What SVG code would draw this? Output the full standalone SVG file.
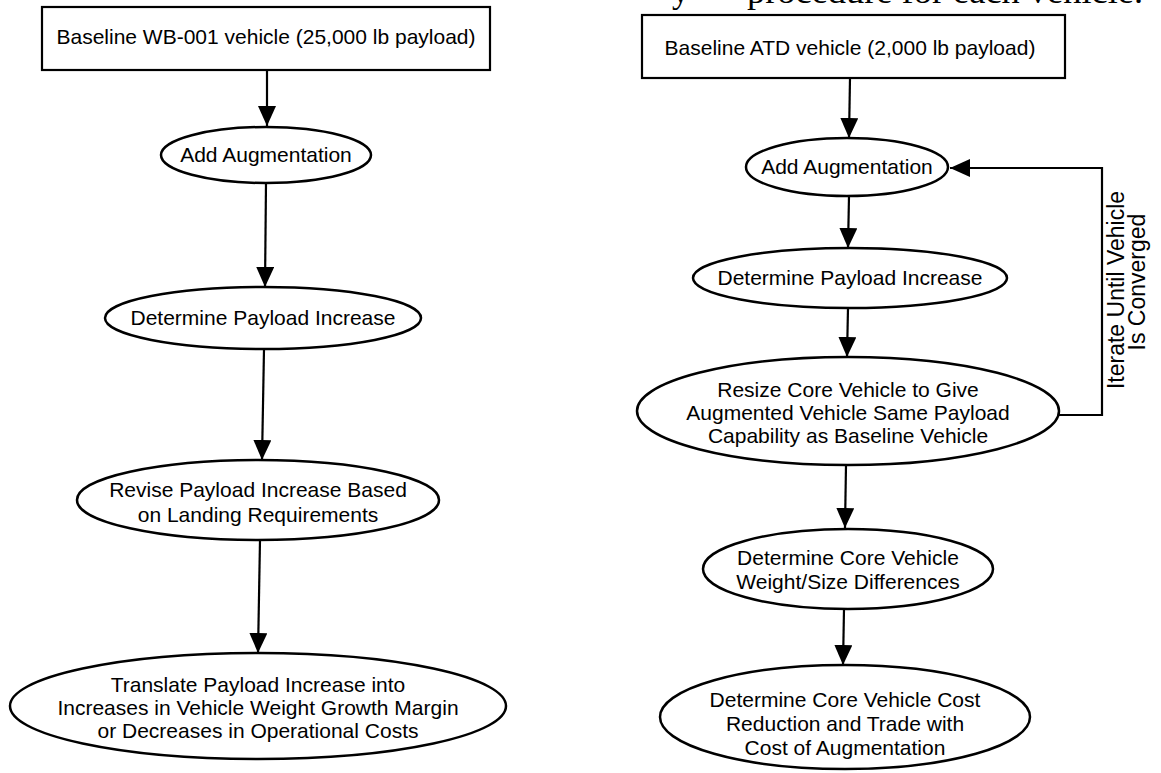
<svg xmlns="http://www.w3.org/2000/svg" width="1161" height="773" viewBox="0 0 1161 773">
<style>
  .box{fill:#fff;stroke:#000;stroke-width:2.2}
  .ell{fill:#fff;stroke:#000;stroke-width:2.5}
  .t{font-family:"Liberation Sans",Arial,Helvetica,sans-serif;font-size:21px;fill:#000;text-anchor:middle}
  .it{font-family:"Liberation Sans",Arial,Helvetica,sans-serif;font-size:23px;fill:#000;text-anchor:middle}
  .top{font-family:"Liberation Serif","Times New Roman",serif;font-size:34px;fill:#000}
  .c{fill:none;stroke:#000;stroke-width:2.2}
</style>
<defs>
  <marker id="ah" markerUnits="userSpaceOnUse" markerWidth="22" markerHeight="20" refX="20" refY="9" orient="auto">
    <path d="M0,0 L20,9 L0,18 Z" fill="#000"/>
  </marker>
</defs>
<rect width="1161" height="773" fill="#fff"/>

<g id="header">
  <text class="top" x="672" y="3">y</text>
  <text class="top" x="747" y="3" textLength="396" lengthAdjust="spacingAndGlyphs">procedure for each vehicle.</text>
</g>

<g id="connectors">
  <line class="c" x1="267" y1="70" x2="267" y2="126" marker-end="url(#ah)"/>
  <line class="c" x1="266" y1="183" x2="265" y2="287" marker-end="url(#ah)"/>
  <line class="c" x1="264" y1="349" x2="262" y2="460" marker-end="url(#ah)"/>
  <line class="c" x1="260" y1="540" x2="258" y2="653" marker-end="url(#ah)"/>
  <line class="c" x1="850" y1="78" x2="849" y2="138" marker-end="url(#ah)"/>
  <line class="c" x1="849" y1="196" x2="848" y2="248" marker-end="url(#ah)"/>
  <line class="c" x1="848" y1="308" x2="847" y2="357" marker-end="url(#ah)"/>
  <line class="c" x1="846" y1="465" x2="845" y2="528" marker-end="url(#ah)"/>
  <line class="c" x1="844" y1="609" x2="843" y2="665" marker-end="url(#ah)"/>
  <polyline class="c" points="1059,415 1102,415 1102,168 950,168" marker-end="url(#ah)"/>
  <g id="iterate-label">
    <text class="it" transform="translate(1124,290) rotate(-90)">Iterate Until Vehicle</text>
    <text class="it" transform="translate(1145,282) rotate(-90)">Is Converged</text>
  </g>
</g>

<g id="L-baseline">
  <rect class="box" x="42" y="7" width="448" height="63"/>
  <text class="t" x="266" y="44">Baseline WB-001 vehicle (25,000 lb payload)</text>
</g>
<g id="L-add">
  <ellipse class="ell" cx="266" cy="155" rx="105" ry="28"/>
  <text class="t" x="266" y="162">Add Augmentation</text>
</g>
<g id="L-determine">
  <ellipse class="ell" cx="263" cy="318" rx="158" ry="31"/>
  <text class="t" x="263" y="325">Determine Payload Increase</text>
</g>
<g id="L-revise">
  <ellipse class="ell" cx="258" cy="500" rx="181" ry="40"/>
  <text class="t" x="258" y="497">Revise Payload Increase Based</text>
  <text class="t" x="258" y="522">on Landing Requirements</text>
</g>
<g id="L-translate">
  <ellipse class="ell" cx="258" cy="706" rx="248" ry="53"/>
  <text class="t" x="258" y="692">Translate Payload Increase into</text>
  <text class="t" x="258" y="715">Increases in Vehicle Weight Growth Margin</text>
  <text class="t" x="258" y="738">or Decreases in Operational Costs</text>
</g>

<g id="R-baseline">
  <rect class="box" x="642" y="15" width="423" height="63"/>
  <text class="t" x="850" y="55">Baseline ATD vehicle (2,000 lb payload)</text>
</g>
<g id="R-add">
  <ellipse class="ell" cx="847" cy="167" rx="101" ry="29"/>
  <text class="t" x="847" y="174">Add Augmentation</text>
</g>
<g id="R-determine">
  <ellipse class="ell" cx="850" cy="278" rx="157" ry="30"/>
  <text class="t" x="850" y="285">Determine Payload Increase</text>
</g>
<g id="R-resize">
  <ellipse class="ell" cx="848" cy="411" rx="211" ry="54"/>
  <text class="t" x="848" y="397">Resize Core Vehicle to Give</text>
  <text class="t" x="848" y="420">Augmented Vehicle Same Payload</text>
  <text class="t" x="848" y="443">Capability as Baseline Vehicle</text>
</g>
<g id="R-weight">
  <ellipse class="ell" cx="848" cy="569" rx="145" ry="40"/>
  <text class="t" x="848" y="565">Determine Core Vehicle</text>
  <text class="t" x="848" y="589">Weight/Size Differences</text>
</g>
<g id="R-cost">
  <ellipse class="ell" cx="845" cy="717" rx="185" ry="52"/>
  <text class="t" x="845" y="707">Determine Core Vehicle Cost</text>
  <text class="t" x="845" y="731">Reduction and Trade with</text>
  <text class="t" x="845" y="755">Cost of Augmentation</text>
</g>
</svg>
